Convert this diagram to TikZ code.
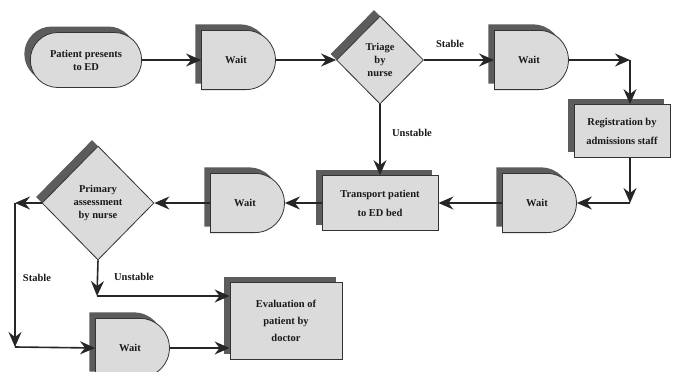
\documentclass[tikz,border=0pt]{standalone}
\usepackage{fontspec}
\setmainfont{Liberation Serif}
\usepackage{tikz}
\usetikzlibrary{arrows.meta, shapes.geometric, shapes.misc, shapes.gates.logic.US, shadows}
\definecolor{boxfill}{gray}{0.86}
\definecolor{boxshadow}{gray}{0.36}
\definecolor{boxline}{gray}{0.2}
\tikzstyle{arrow} = [line width=1.6pt, draw=black!85, -{Stealth[length=15pt,width=13pt,inset=5pt]}]
\tikzstyle{shaded} = [draw=boxline, line width=0.8pt, fill=boxfill,
  drop shadow={shadow xshift=-6pt, shadow yshift=6pt, fill=boxshadow, opacity=1}]
\tikzstyle{startstop} = [rounded rectangle, shaded, minimum width=118pt, minimum height=55pt, align=center]
\tikzstyle{process} = [rectangle, shaded, inner sep=2pt, align=center]
\tikzstyle{decision} = [diamond, shaded, aspect=1, inner sep=0pt, align=center]
\tikzset{
  waitbox/.style = {and gate US, shaded, minimum width=74pt, minimum height=54pt, logic gate inputs=nn}
}
\tikzstyle{lbl} = [inner sep=1pt]

\begin{document}
\begin{tikzpicture}[x=1pt, y=-1pt, font=\fontsize{10.5}{13}\selectfont\bfseries, text=black!90]
\useasboundingbox (0,0) rectangle (675,372);
%----------------------------------------------------------------------------
% Placement of flowchart nodes
\node (arrive) [startstop] at (86,60) {Patient presents\\to ED};
\node (waitA) [waitbox, right of=arrive, node distance=150pt] {Wait};
\node (triage) [decision, right of=waitA, node distance=144pt, minimum width=87pt, minimum height=88pt] {Triage\\by\\nurse};
\node (waitB) [waitbox, right of=triage, node distance=149pt] {Wait};
\node (register) [process, minimum width=96pt, minimum height=53pt] at (622,131) {Registration by\\[6pt]admissions staff};

\node (transport) [process, below of=triage, node distance=143pt, minimum width=116pt, minimum height=55pt] {Transport patient\\[6pt]to ED bed};
\node (waitC) [waitbox, right of=transport, node distance=157pt] {Wait};
\node (waitD) [waitbox, left of=transport, node distance=135pt] {Wait};
\node (primary) [decision, left of=waitD, node distance=147pt, minimum width=112pt, minimum height=114pt] {Primary\\assessment\\by nurse};

\node (evaluate) [process, minimum width=112pt, minimum height=77pt] at (286,321) {Evaluation of\\[4pt]patient by\\[4pt]doctor};
\node (waitE) [waitbox] at (130,348) {Wait};

% corners of the connectors
\coordinate (cornerA) at (630,60);
\coordinate (cornerB) at (630,203);
\coordinate (cornerC) at (15,203);
\coordinate (cornerD) at (15,347);
\coordinate (cornerE) at (97,296);

%----------------------------------------------------------------------------
% Lines
\draw [arrow] (arrive.east) -- (waitA.west);
\draw [arrow] (waitA.east) -- (triage.west);
\draw [arrow] (triage.east) -- (waitB.west);
\draw [arrow] (waitB.east) -- (cornerA);
\draw [arrow] (cornerA) -- (cornerA |- register.north);
\draw [arrow] (cornerA |- register.south) -- (cornerB);
\draw [arrow] (cornerB) -- (waitC.east);
\draw [arrow] (waitC.west) -- (transport.east);
\draw [arrow] (triage.south) -- (transport.north);

\draw [arrow] (transport.west) -- (waitD.east);
\draw [arrow] (waitD.west) -- (primary.east);
\draw [arrow] (primary.west) -- (cornerC);
\draw [arrow] (cornerC) -- (cornerD);
\draw [arrow] (cornerD) -- (waitE.west);
\draw [arrow] (primary.south) -- (cornerE);
\draw [arrow] (cornerE) -- (cornerE -| evaluate.west);
\draw [arrow] (waitE.east) -- (waitE.east -| evaluate.west);

%----------------------------------------------------------------------------
% Branch labels
\node (stableA) [lbl] at (450,44) {Stable};
\node (unstableA) [lbl] at (412,133) {Unstable};
\node (stableB) [lbl] at (37,278) {Stable};
\node (unstableB) [lbl] at (134,277) {Unstable};

\end{tikzpicture}
\end{document}
